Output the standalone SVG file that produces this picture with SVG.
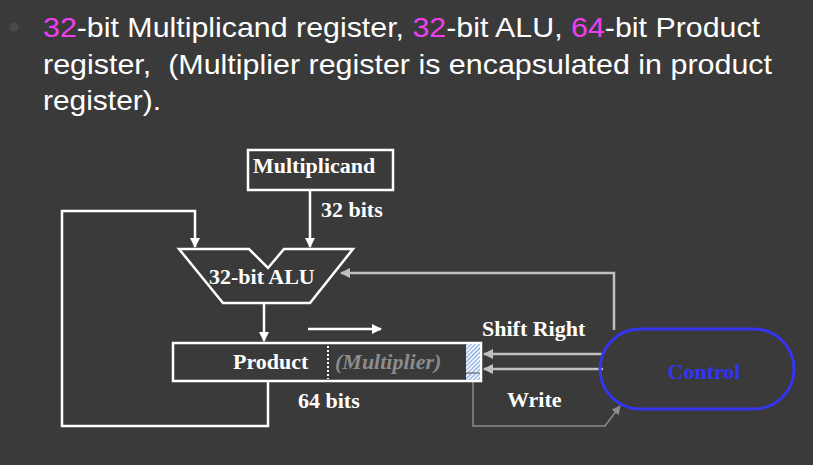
<svg xmlns="http://www.w3.org/2000/svg" width="813" height="465" viewBox="0 0 813 465">
<defs>
<style>
.title{font-family:"Liberation Sans",Arial,sans-serif;font-size:28px;fill:#ffffff;white-space:pre}
.pk{fill:#ee3fee}
.lbl{font-family:"Liberation Serif","Times New Roman",serif;font-weight:bold;font-size:22px;fill:#ffffff}
.w{fill:none;stroke:#ffffff;stroke-width:2.5}
.g{fill:none;stroke:#c0c0c0;stroke-width:2.5}
.t{fill:none;stroke:#8a8a8a;stroke-width:1.5}
</style>
<marker id="aw" viewBox="0 0 10 10" refX="9" refY="5" markerWidth="4" markerHeight="4" orient="auto" markerUnits="strokeWidth"><path d="M0,0 L10,5 L0,10 z" fill="#ffffff"/></marker>
<marker id="ag" viewBox="0 0 10 10" refX="9" refY="5" markerWidth="4" markerHeight="4" orient="auto" markerUnits="strokeWidth"><path d="M0,0 L10,5 L0,10 z" fill="#c0c0c0"/></marker>
<marker id="at" viewBox="0 0 10 10" refX="9" refY="5" markerWidth="6" markerHeight="6" orient="auto" markerUnits="strokeWidth"><path d="M0,0 L10,5 L0,10 z" fill="#8a8a8a"/></marker>
<pattern id="hatch" width="3" height="3" patternUnits="userSpaceOnUse" patternTransform="rotate(45)">
<rect width="3" height="3" fill="#eef3ff"/>
<line x1="0" y1="0" x2="0" y2="3" stroke="#3b6fc0" stroke-width="1.2"/>
</pattern>
</defs>
<rect width="813" height="465" fill="#3a3a3a"/>
<circle cx="14" cy="27" r="4.5" fill="#4a4a4a"/>
<text class="title" x="43" y="37" textLength="717" lengthAdjust="spacingAndGlyphs"><tspan class="pk">32</tspan>-bit Multiplicand register, <tspan class="pk">32</tspan>-bit ALU, <tspan class="pk">64</tspan>-bit Product</text>
<text class="title" x="43" y="74" textLength="729" lengthAdjust="spacingAndGlyphs" xml:space="preserve">register,  (Multiplier register is encapsulated in product</text>
<text class="title" x="43" y="110" textLength="118" lengthAdjust="spacingAndGlyphs">register).</text>

<g id="connectors">
<line class="w" x1="310" y1="190" x2="310" y2="247" marker-end="url(#aw)"/>
<polyline class="w" points="268,381 268,426 62,426 62,211 195,211 195,247" marker-end="url(#aw)"/>
<line class="w" x1="264" y1="304" x2="264" y2="341" marker-end="url(#aw)"/>
<line class="w" x1="308" y1="329" x2="381" y2="329" marker-end="url(#aw)"/>
<polyline class="g" points="614,330 614,273 341,273" marker-end="url(#ag)"/>
<line class="g" x1="603" y1="354" x2="484" y2="354" marker-end="url(#ag)"/>
<line class="g" x1="603" y1="369" x2="484" y2="369" marker-end="url(#ag)"/>
<polyline class="t" points="473,381 473,426 605,426 620,406" marker-end="url(#at)"/>
</g>

<g id="multiplicand">
<rect class="w" x="248" y="150" width="145" height="40"/>
<text class="lbl" x="253" y="173">Multiplicand</text>
</g>
<text class="lbl" x="321" y="217">32 bits</text>

<g id="alu">
<polygon class="w" points="179,249 249,249 268,268 284,249 353,249 310,303 223,303"/>
<text class="lbl" x="209" y="284">32-bit ALU</text>
</g>

<g id="product">
<rect class="w" x="173" y="343" width="308" height="38"/>
<rect x="466" y="344" width="14" height="36" fill="url(#hatch)"/>
<line x1="466" y1="373" x2="480" y2="373" stroke="#555" stroke-width="1"/>
<line x1="328" y1="346" x2="328" y2="379" stroke="#ffffff" stroke-width="2" stroke-dasharray="2,2"/>
<text class="lbl" x="233" y="369">Product</text>
<text class="lbl" x="335" y="369" font-style="italic" style="fill:#8c8c8c">(Multiplier)</text>
</g>
<text class="lbl" x="298" y="408">64 bits</text>

<text class="lbl" x="482" y="336">Shift Right</text>
<text class="lbl" x="507" y="407">Write</text>

<g id="control">
<rect x="600" y="329" width="194" height="80" rx="40" ry="40" fill="none" stroke="#3535f0" stroke-width="3"/>
<text class="lbl" x="704" y="379" text-anchor="middle" style="fill:#3535f0">Control</text>
</g>
</svg>
